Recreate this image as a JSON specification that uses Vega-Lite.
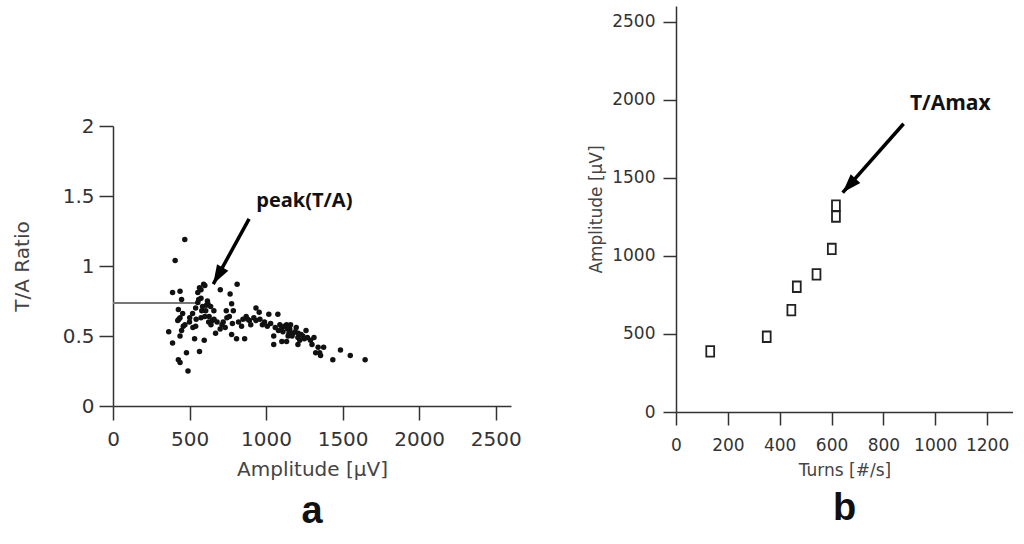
{
  "$schema": "https://vega.github.io/schema/vega-lite/v6.json",
  "background": "white",
  "padding": {"left": 12, "top": 6, "right": 0, "bottom": 0},
  "config": {
    "view": {"stroke": null},
    "axis": {
      "grid": false,
      "domainColor": "#333",
      "tickColor": "#333",
      "domainWidth": 1.5,
      "tickWidth": 1.5,
      "labelColor": "#333",
      "titleColor": "#444",
      "labelFont": "DejaVu Sans",
      "titleFont": "DejaVu Sans",
      "titleFontWeight": "normal",
      "labelFlush": false,
      "labelOverlap": false
    }
  },
  "datasets": {
    "ta": [
      {"amp": 469, "ratio": 1.19}, {"amp": 406, "ratio": 1.04}, {"amp": 389, "ratio": 0.81}, {"amp": 438, "ratio": 0.82},
      {"amp": 448, "ratio": 0.76}, {"amp": 427, "ratio": 0.69}, {"amp": 438, "ratio": 0.63}, {"amp": 423, "ratio": 0.61},
      {"amp": 459, "ratio": 0.57}, {"amp": 448, "ratio": 0.54}, {"amp": 364, "ratio": 0.53}, {"amp": 389, "ratio": 0.45},
      {"amp": 438, "ratio": 0.50}, {"amp": 480, "ratio": 0.38}, {"amp": 427, "ratio": 0.33}, {"amp": 438, "ratio": 0.31},
      {"amp": 490, "ratio": 0.25}, {"amp": 533, "ratio": 0.48}, {"amp": 596, "ratio": 0.47}, {"amp": 565, "ratio": 0.39},
      {"amp": 522, "ratio": 0.56}, {"amp": 501, "ratio": 0.63}, {"amp": 543, "ratio": 0.62}, {"amp": 554, "ratio": 0.81},
      {"amp": 565, "ratio": 0.845}, {"amp": 592, "ratio": 0.87}, {"amp": 575, "ratio": 0.77}, {"amp": 554, "ratio": 0.74},
      {"amp": 585, "ratio": 0.71}, {"amp": 617, "ratio": 0.75}, {"amp": 638, "ratio": 0.71}, {"amp": 606, "ratio": 0.68},
      {"amp": 575, "ratio": 0.63}, {"amp": 628, "ratio": 0.64}, {"amp": 659, "ratio": 0.68}, {"amp": 649, "ratio": 0.61},
      {"amp": 670, "ratio": 0.52}, {"amp": 701, "ratio": 0.83}, {"amp": 765, "ratio": 0.80}, {"amp": 811, "ratio": 0.87},
      {"amp": 712, "ratio": 0.58}, {"amp": 744, "ratio": 0.63}, {"amp": 733, "ratio": 0.56}, {"amp": 775, "ratio": 0.73},
      {"amp": 786, "ratio": 0.68}, {"amp": 775, "ratio": 0.51}, {"amp": 807, "ratio": 0.48}, {"amp": 860, "ratio": 0.48},
      {"amp": 849, "ratio": 0.62}, {"amp": 870, "ratio": 0.64}, {"amp": 891, "ratio": 0.61}, {"amp": 934, "ratio": 0.70},
      {"amp": 955, "ratio": 0.67}, {"amp": 934, "ratio": 0.61}, {"amp": 976, "ratio": 0.58}, {"amp": 1008, "ratio": 0.57},
      {"amp": 1018, "ratio": 0.655}, {"amp": 1077, "ratio": 0.655}, {"amp": 1050, "ratio": 0.50}, {"amp": 1050, "ratio": 0.44},
      {"amp": 1081, "ratio": 0.54}, {"amp": 1103, "ratio": 0.56}, {"amp": 1134, "ratio": 0.58}, {"amp": 1155, "ratio": 0.55},
      {"amp": 1144, "ratio": 0.50}, {"amp": 1176, "ratio": 0.52}, {"amp": 1197, "ratio": 0.56}, {"amp": 1103, "ratio": 0.46},
      {"amp": 1134, "ratio": 0.46}, {"amp": 1208, "ratio": 0.49}, {"amp": 1229, "ratio": 0.51}, {"amp": 1261, "ratio": 0.54},
      {"amp": 1250, "ratio": 0.48}, {"amp": 1208, "ratio": 0.44}, {"amp": 1313, "ratio": 0.49}, {"amp": 1324, "ratio": 0.38},
      {"amp": 1356, "ratio": 0.36}, {"amp": 1376, "ratio": 0.42}, {"amp": 1436, "ratio": 0.33}, {"amp": 1486, "ratio": 0.40},
      {"amp": 1550, "ratio": 0.36}, {"amp": 1647, "ratio": 0.33},
      {"amp": 430, "ratio": 0.62}, {"amp": 455, "ratio": 0.66}, {"amp": 470, "ratio": 0.58}, {"amp": 500, "ratio": 0.60},
      {"amp": 520, "ratio": 0.66}, {"amp": 540, "ratio": 0.70}, {"amp": 560, "ratio": 0.76}, {"amp": 580, "ratio": 0.68},
      {"amp": 600, "ratio": 0.64}, {"amp": 610, "ratio": 0.72}, {"amp": 625, "ratio": 0.60}, {"amp": 640, "ratio": 0.58},
      {"amp": 660, "ratio": 0.62}, {"amp": 680, "ratio": 0.60}, {"amp": 700, "ratio": 0.55}, {"amp": 720, "ratio": 0.60},
      {"amp": 740, "ratio": 0.68}, {"amp": 760, "ratio": 0.64}, {"amp": 780, "ratio": 0.59}, {"amp": 820, "ratio": 0.60},
      {"amp": 840, "ratio": 0.57}, {"amp": 880, "ratio": 0.62}, {"amp": 900, "ratio": 0.58}, {"amp": 920, "ratio": 0.63},
      {"amp": 960, "ratio": 0.62}, {"amp": 990, "ratio": 0.60}, {"amp": 1030, "ratio": 0.59}, {"amp": 1060, "ratio": 0.56},
      {"amp": 1090, "ratio": 0.58}, {"amp": 1110, "ratio": 0.53}, {"amp": 1120, "ratio": 0.57}, {"amp": 1140, "ratio": 0.55},
      {"amp": 1150, "ratio": 0.52}, {"amp": 1160, "ratio": 0.58}, {"amp": 1170, "ratio": 0.50}, {"amp": 1190, "ratio": 0.53},
      {"amp": 1210, "ratio": 0.52}, {"amp": 1220, "ratio": 0.47}, {"amp": 1240, "ratio": 0.50}, {"amp": 1270, "ratio": 0.49},
      {"amp": 1290, "ratio": 0.47}, {"amp": 1300, "ratio": 0.44}, {"amp": 1340, "ratio": 0.42}, {"amp": 1350, "ratio": 0.38},
      {"amp": 575, "ratio": 0.83}, {"amp": 600, "ratio": 0.86}, {"amp": 620, "ratio": 0.73}, {"amp": 540, "ratio": 0.57}
    ],
    "hline": [{"amp": 0, "amp2": 560, "ratio": 0.735}],
    "arrowA": [{"amp": 889, "ratio": 1.336, "amp2": 655, "ratio2": 0.871, "label": "peak(T/A)", "lx": 1250, "ly": 1.464}],
    "turns": [
      {"turns": 132, "amp": 388}, {"turns": 350, "amp": 482}, {"turns": 445, "amp": 652}, {"turns": 466, "amp": 802},
      {"turns": 542, "amp": 881}, {"turns": 601, "amp": 1044}, {"turns": 617, "amp": 1252}, {"turns": 617, "amp": 1322}
    ],
    "arrowB": [{"turns": 878, "amp": 1846, "turns2": 643, "amp2": 1405, "label": "T/Amax", "lx": 1058, "ly": 1974}]
  },
  "spacing": 65,
  "hconcat": [
    {
      "spacing": 0,
      "vconcat": [
        {
          "width": 398,
          "height": 110,
          "data": {"values": []},
          "mark": {"type": "point"}
        },
        {
          "width": 398,
          "height": 280,
          "title": {"text": "a", "orient": "bottom", "anchor": "middle", "font": "Liberation Sans", "fontWeight": "bold", "fontSize": 38, "color": "#111", "offset": 14},
          "layer": [
            {
              "data": {"name": "hline"},
              "mark": {"type": "rule", "color": "#777", "strokeWidth": 2},
              "encoding": {
                "x": {"field": "amp", "type": "quantitative", "title": "Amplitude [µV]",
                  "scale": {"domain": [0, 2500]},
                  "axis": {"values": [0, 500, 1000, 1500, 2000, 2500], "format": "d", "tickSize": 14, "labelFontSize": 20, "labelPadding": 9, "titleFontSize": 20, "titlePadding": 10}},
                "x2": {"field": "amp2"},
                "y": {"field": "ratio", "type": "quantitative", "title": "T/A Ratio",
                  "scale": {"domain": [0, 2]},
                  "axis": {"values": [0, 0.5, 1, 1.5, 2], "format": "~g", "tickSize": 14, "labelFontSize": 20, "labelPadding": 5, "titleFontSize": 20, "titlePadding": 30}}
              }
            },
            {
              "data": {"name": "ta"},
              "mark": {"type": "circle", "size": 30, "color": "#111", "opacity": 1},
              "encoding": {
                "x": {"field": "amp", "type": "quantitative", "title": "Amplitude [µV]"},
                "y": {"field": "ratio", "type": "quantitative", "title": "T/A Ratio"}
              }
            },
            {
              "data": {"name": "arrowA"},
              "mark": {"type": "rule", "color": "#000", "strokeWidth": 3.5},
              "encoding": {
                "x": {"field": "amp", "type": "quantitative", "title": "Amplitude [µV]"},
                "y": {"field": "ratio", "type": "quantitative", "title": "T/A Ratio"},
                "x2": {"field": "amp2"},
                "y2": {"field": "ratio2"}
              }
            },
            {
              "data": {"name": "arrowA"},
              "mark": {"type": "point", "shape": "M0,0L-1.3,3.8L1.3,3.8Z", "size": 100, "filled": true, "color": "#000", "opacity": 1, "angle": 209.6},
              "encoding": {
                "x": {"field": "amp2", "type": "quantitative", "title": "Amplitude [µV]"},
                "y": {"field": "ratio2", "type": "quantitative", "title": "T/A Ratio"}
              }
            },
            {
              "data": {"name": "arrowA"},
              "mark": {"type": "text", "font": "Open Sans", "fontWeight": "bold", "fontSize": 20, "color": "#111", "baseline": "middle", "align": "center"},
              "encoding": {
                "x": {"field": "lx", "type": "quantitative", "title": "Amplitude [µV]"},
                "y": {"field": "ly", "type": "quantitative", "title": "T/A Ratio"},
                "text": {"field": "label"}
              }
            }
          ]
        }
      ]
    },
    {
      "width": 337,
      "height": 406,
      "title": {"text": "b", "orient": "bottom", "anchor": "middle", "font": "Liberation Sans", "fontWeight": "bold", "fontSize": 38, "color": "#111", "offset": 12},
      "layer": [
        {
          "data": {"name": "turns"},
          "mark": {"type": "point", "shape": "M-0.75,-1H0.75V1H-0.75Z", "size": 110, "filled": false, "stroke": "#222", "strokeWidth": 1.8, "opacity": 1},
          "encoding": {
            "x": {"field": "turns", "type": "quantitative", "title": "Turns [#/s]",
              "scale": {"domain": [0, 1250]},
              "axis": {"values": [0, 200, 400, 600, 800, 1000, 1200], "format": "d", "tickSize": 13, "labelFontSize": 17, "labelPadding": 12, "titleFontSize": 17, "titlePadding": 9}},
            "y": {"field": "amp", "type": "quantitative", "title": "Amplitude [µV]",
              "scale": {"domain": [0, 2500]},
              "axis": {"values": [0, 500, 1000, 1500, 2000, 2500], "format": "d", "tickSize": 13, "labelFontSize": 17, "labelPadding": 8, "titleFontSize": 17, "titlePadding": 6}}
          }
        },
        {
          "data": {"name": "arrowB"},
          "mark": {"type": "rule", "color": "#000", "strokeWidth": 3.5},
          "encoding": {
            "x": {"field": "turns", "type": "quantitative", "title": "Turns [#/s]"},
            "y": {"field": "amp", "type": "quantitative", "title": "Amplitude [µV]"},
            "x2": {"field": "turns2"},
            "y2": {"field": "amp2"}
          }
        },
        {
          "data": {"name": "arrowB"},
          "mark": {"type": "point", "shape": "M0,0L-1.3,3.8L1.3,3.8Z", "size": 100, "filled": true, "color": "#000", "opacity": 1, "angle": 222.4},
          "encoding": {
            "x": {"field": "turns2", "type": "quantitative", "title": "Turns [#/s]"},
            "y": {"field": "amp2", "type": "quantitative", "title": "Amplitude [µV]"}
          }
        },
        {
          "data": {"name": "arrowB"},
          "mark": {"type": "text", "font": "Open Sans", "fontWeight": "bold", "fontSize": 21, "color": "#111", "baseline": "middle", "align": "center"},
          "encoding": {
            "x": {"field": "lx", "type": "quantitative", "title": "Turns [#/s]"},
            "y": {"field": "ly", "type": "quantitative", "title": "Amplitude [µV]"},
            "text": {"field": "label"}
          }
        }
      ]
    }
  ]
}
